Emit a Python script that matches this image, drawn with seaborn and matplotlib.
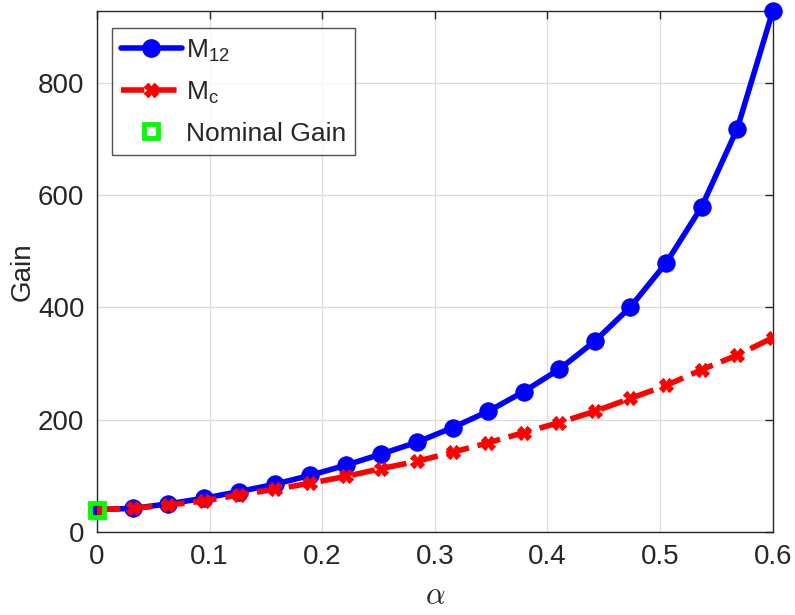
import numpy as np
import pandas as pd
import matplotlib
matplotlib.use('Agg')
import matplotlib.pyplot as plt
import seaborn as sns
from matplotlib.lines import Line2D

# values
alpha = [0, 0.0316, 0.0632, 0.0947, 0.1263, 0.1579, 0.1895, 0.2211, 0.2526, 0.2842,
         0.3158, 0.3474, 0.3789, 0.4105, 0.4421, 0.4737, 0.5053, 0.5368, 0.5684, 0.6]
m12 = [40, 42, 50, 60, 72, 85, 101, 119, 139, 160,
       186, 215, 250, 290, 340, 401, 479, 579, 718, 928]
mc = [40, 42, 48, 55, 66, 76, 87, 99, 113, 126,
      142, 159, 177, 195, 215, 238, 261, 289, 315, 346]
nominal_x = [0]
nominal_y = [40]

xticks = [0, 0.1, 0.2, 0.3, 0.4, 0.5, 0.6]
xticklabels = ['0', '0.1', '0.2', '0.3', '0.4', '0.5', '0.6']
yticks = [0, 200, 400, 600, 800]

df = pd.DataFrame({'alpha': alpha, 'm12': m12, 'mc': mc})

sns.set_style('white')
plt.rcParams['font.family'] = ['Liberation Sans', 'DejaVu Sans']
plt.rcParams['mathtext.fontset'] = 'cm'

fig = plt.figure(figsize=(7.95, 6.15), dpi=100)
ax = fig.add_axes([0.122, 0.135, 0.85, 0.847])

blue_line = dict(color='#0000ff', lw=4, marker='o', markersize=12.5, markeredgecolor='#0000ff')
red_line = dict(color='#ff0000', lw=4, linestyle=(0, (4.2, 1.6)), marker='X', markersize=10,
                markeredgecolor='#ff0000')
green_mark = dict(linestyle='none', marker='s', markersize=10, markerfacecolor='none',
                  markeredgecolor='#00ff00', markeredgewidth=3.5)

sns.lineplot(x='alpha', y='m12', data=df, ax=ax, clip_on=False, zorder=3, **blue_line)
sns.lineplot(x='alpha', y='mc', data=df, ax=ax, zorder=4, **red_line)
ax.plot(nominal_x, nominal_y, clip_on=False, zorder=5, **green_mark)

ax.set_xlim(0, 0.6)
ax.set_ylim(0, 928)
ax.set_xticks(xticks)
ax.set_xticklabels(xticklabels)
ax.set_yticks(yticks)
ax.grid(True, color='#dcdcdc', lw=0.9)
ax.tick_params(direction='in', length=6, width=1, top=True, right=True,
               labelsize=20, colors='#262626', pad=9)
for s in ax.spines.values():
    s.set_color('#262626')
    s.set_linewidth(1.0)

ax.set_xlabel(r'$\alpha$', fontsize=22, color='#262626', labelpad=8)
ax.set_ylabel('Gain', fontsize=20, color='#262626', labelpad=2)

handles = [Line2D([], [], **blue_line), Line2D([], [], **red_line), Line2D([], [], **green_mark)]
labels = [r'$\mathregular{M_{12}}$', r'$\mathregular{M_{c}}$', 'Nominal Gain']
leg = ax.legend(handles, labels, loc='upper left', bbox_to_anchor=(0.022, 0.967),
                fontsize=19, frameon=True, fancybox=False, edgecolor='#262626',
                handlelength=2.3, handletextpad=0.15, borderpad=0.35, labelspacing=0.6,
                borderaxespad=0)
leg.get_frame().set_linewidth(1.0)

plt.savefig('out.png', dpi=100)
plt.close()
